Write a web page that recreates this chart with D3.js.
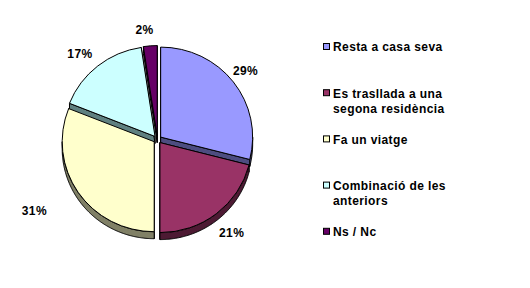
<!DOCTYPE html>
<html><head><meta charset="utf-8">
<script src="https://cdn.jsdelivr.net/npm/d3@7"></script>
<style>
body{margin:0;background:#fff}
svg{display:block}
text{font-family:Arial,"Liberation Sans",sans-serif;font-weight:bold;font-size:12px;letter-spacing:0.4px;fill:#000}
</style>
</head><body>
<svg id="chart" width="530" height="288"></svg>
<script>
// ---- data ----
const categories = ["Resta a casa seva", "Es trasllada a una segona residència", "Fa un viatge", "Combinació de les anteriors", "Ns / Nc"];
const legendLines = [["Resta a casa seva"], ["Es trasllada a una", "segona residència"], ["Fa un viatge"], ["Combinació de les", "anteriors"], ["Ns / Nc"]];
const values = [29, 21, 31, 16.6, 2.4];
const valueLabels = ["29%", "21%", "31%", "17%", "2%"];

// ---- style / layout ----
const topColors = ["#9999FF", "#993366", "#FFFFCC", "#CCFFFF", "#660066"];
const sideColors = ["#4D4D80", "#4D1A33", "#808066", "#5F8080", "#330033"];
const cx = 157.5, cy = 139.5, rx = 92, ry = 90, depth = 7, explode = 4;
const labelGap = [21, 29, 51, 25, 21];
const labelNudge = [-1, 0, 3.6, -3, -2.3];

const svg = d3.select("#chart");
const pie = d3.pie().sort(null).value(d => d)(values);
const k = ry / rx;

function off(a) { return [explode * Math.sin(a), -explode * Math.cos(a) * k]; }
function pt(o, a, dz) { return [cx + o[0] + rx * Math.sin(a), cy + o[1] - ry * Math.cos(a) + (dz || 0)]; }

const slices = pie.map((p, i) => {
  const mid = (p.startAngle + p.endAngle) / 2;
  return { p, i, mid, o: off(mid) };
});

const line = d3.line();
const gSide = svg.append("g");
const gWall = svg.append("g");
const gTop = svg.append("g");

// radial side faces
slices.forEach(s => {
  [s.p.startAngle, s.p.endAngle].forEach(a => {
    const c = [cx + s.o[0], cy + s.o[1]];
    const e = pt(s.o, a);
    const poly = [c, e, [e[0], e[1] + depth], [c[0], c[1] + depth]];
    gSide.append("path").attr("d", line(poly) + "Z")
      .attr("fill", sideColors[s.i]).attr("stroke", "#000").attr("stroke-width", 1)
      .attr("stroke-linejoin", "round");
  });
});

// outer walls (front half only)
slices.forEach(s => {
  const a0 = Math.max(s.p.startAngle, Math.PI / 2);
  const a1 = Math.min(s.p.endAngle, 3 * Math.PI / 2);
  if (a1 <= a0) return;
  const n = Math.max(2, Math.ceil((a1 - a0) / 0.01));
  const angs = d3.range(n + 1).map(j => a0 + (a1 - a0) * j / n);
  const topPts = angs.map(a => pt(s.o, a));
  const botPts = angs.slice().reverse().map(a => pt(s.o, a, depth));
  gWall.append("path").attr("d", line(topPts.concat(botPts)) + "Z")
    .attr("fill", sideColors[s.i]).attr("stroke", "#000").attr("stroke-width", 1)
    .attr("stroke-linejoin", "round");
});

// top faces
const arc = d3.arc().innerRadius(0).outerRadius(rx);
slices.forEach(s => {
  gTop.append("path").attr("d", arc(s.p))
    .attr("transform", `translate(${cx + s.o[0]},${cy + s.o[1]}) scale(1,${k})`)
    .attr("vector-effect", "non-scaling-stroke")
    .attr("fill", topColors[s.i]).attr("stroke", "#000").attr("stroke-width", 1)
    .attr("stroke-linejoin", "round");
});

// value labels
slices.forEach(s => {
  const a = s.mid + labelNudge[s.i] * Math.PI / 180;
  const R = rx + labelGap[s.i];
  svg.append("text")
    .attr("x", cx + R * Math.sin(a))
    .attr("y", cy - R * Math.cos(a) * k)
    .attr("dy", "0.36em")
    .attr("text-anchor", "middle")
    .text(valueLabels[s.i]);
});

// legend
const lg = svg.append("g");
legendLines.forEach((lines, i) => {
  const y = 47 + i * 46.2;
  lg.append("rect").attr("x", 323.5).attr("y", y - 3.5).attr("width", 6).attr("height", 6)
    .attr("fill", topColors[i]).attr("stroke", "#000").attr("stroke-width", 1);
  lines.forEach((t, j) => {
    lg.append("text").attr("x", 333).attr("y", y + j * 15.5).attr("dy", "0.36em").text(t);
  });
});
</script>
</body></html>
